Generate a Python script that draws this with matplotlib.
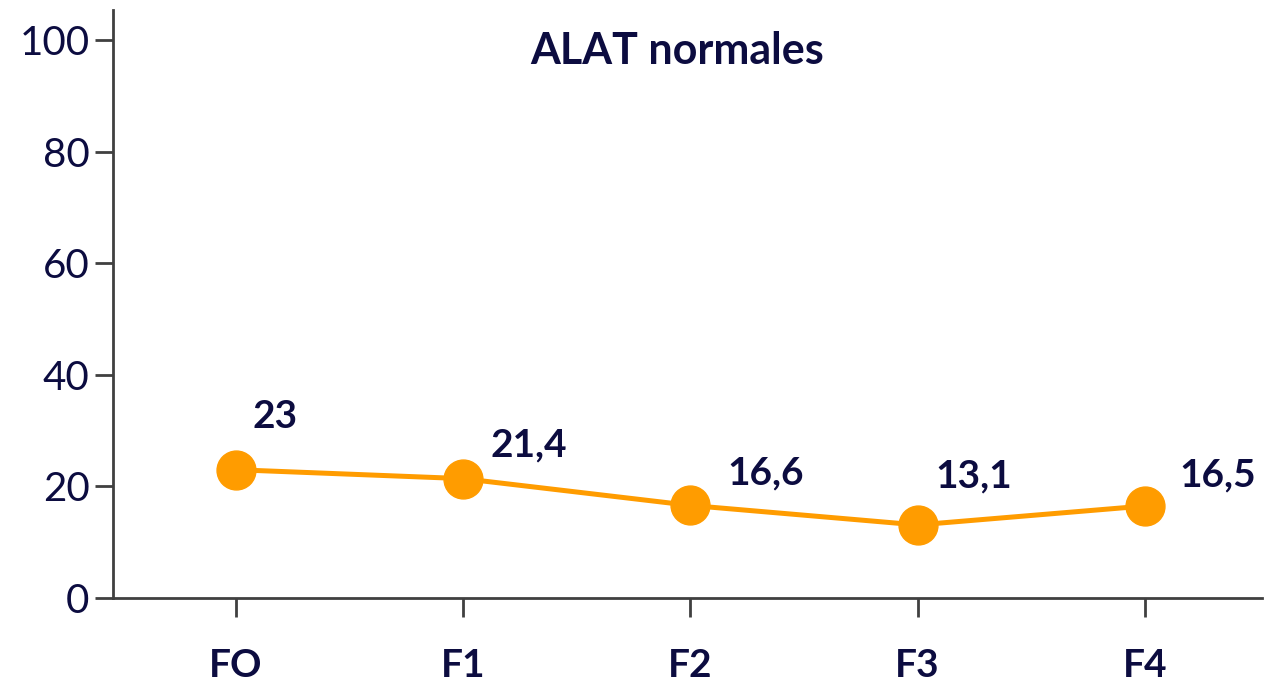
import matplotlib.pyplot as plt

# donnees
categories = ["FO", "F1", "F2", "F3", "F4"]
valeurs = [23, 21.4, 16.6, 13.1, 16.5]
etiquettes = ["23", "21,4", "16,6", "13,1", "16,5"]
yticks = [0, 20, 40, 60, 80, 100]

NAVY = "#0c0c40"
ORANGE = "#ff9c00"
GRIS = "#404040"

plt.rcParams["font.family"] = ["Lato", "DejaVu Sans"]

fig = plt.figure(figsize=(12.71, 6.84), dpi=100)
ax = fig.add_axes([0.0889, 0.1257, 0.904, 0.8597])

x = list(range(len(categories)))
ax.plot(x, valeurs, color=ORANGE, linewidth=3.6, marker="o",
        markersize=28, solid_capstyle="round", zorder=3)

# decalage des etiquettes (en points)
decalages = [(12, 38), (20, 24), (27, 23), (13, 35), (25, 22)]
for xi, v, lab, (dx, dy) in zip(x, valeurs, etiquettes, decalages):
    ax.annotate(lab, (xi, v), xytext=(dx, dy), textcoords="offset points",
                ha="left", va="center", fontsize=28, fontweight="bold",
                color=NAVY)

ax.set_xlim(-0.54, len(categories) - 1 + 0.515)
ax.set_ylim(0, 105.4)
ax.set_yticks(yticks)
ax.set_yticklabels([str(t) for t in yticks])
ax.set_xticks(x)
ax.set_xticklabels(categories, fontweight="bold")

for s in ["top", "right"]:
    ax.spines[s].set_visible(False)
for s in ["left", "bottom"]:
    ax.spines[s].set_color(GRIS)
    ax.spines[s].set_linewidth(2)

ax.tick_params(axis="y", length=13, width=2, color=GRIS, labelsize=29,
               labelcolor=NAVY, pad=4)
ax.tick_params(axis="x", length=14, width=2, color=GRIS, labelsize=28,
               labelcolor=NAVY, pad=22)

ax.text(0.491, 0.93, "ALAT normales", transform=ax.transAxes, ha="center",
        va="center", fontsize=31, fontweight="bold", color=NAVY)

fig.savefig("out.png", dpi=100, facecolor="white")
